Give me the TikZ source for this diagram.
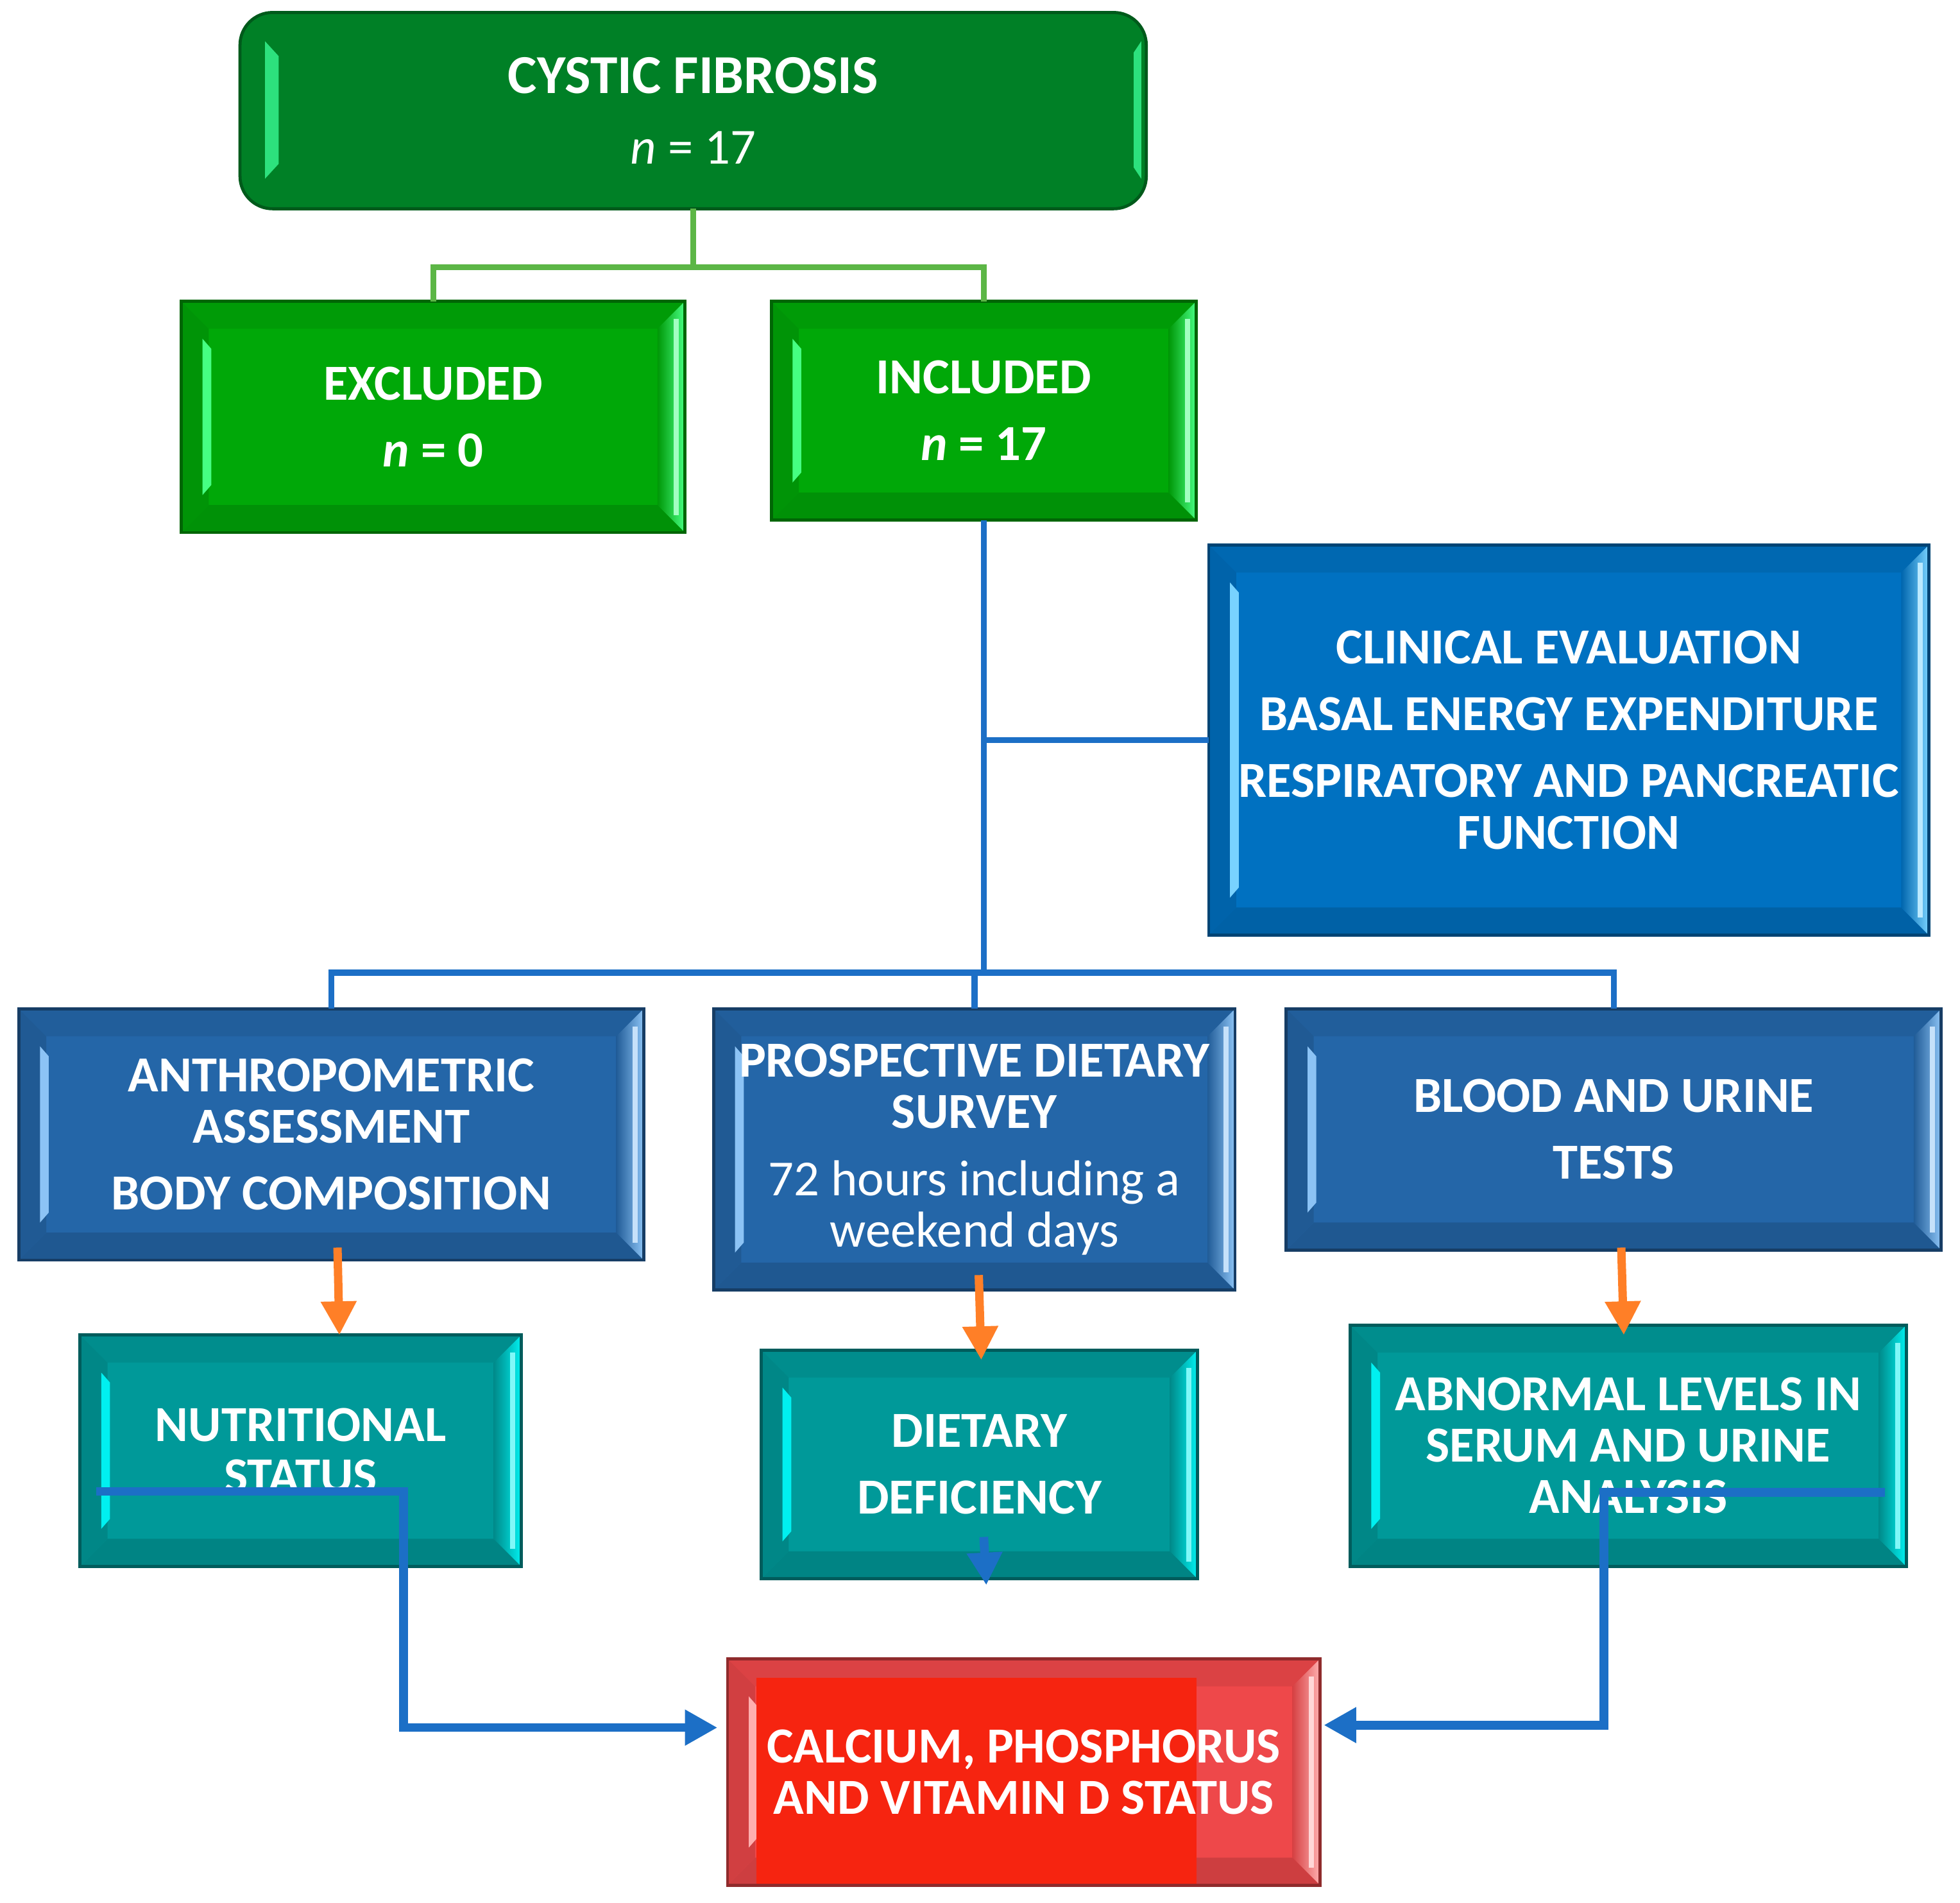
\documentclass[tikz,border=0pt]{standalone}
\usepackage{fontspec}
\setmainfont{Carlito}
\usepackage{tikz}
\usetikzlibrary{positioning,calc,arrows.meta}

\definecolor{cfgreen}{RGB}{0,128,38}
\definecolor{boxgreen}{RGB}{0,168,8}
\definecolor{lightgreen}{RGB}{70,255,130}
\definecolor{glossgreen}{RGB}{45,225,125}
\definecolor{linegreen}{RGB}{92,182,70}
\definecolor{clinblue}{RGB}{0,113,193}
\definecolor{lightblue}{RGB}{120,210,255}
\definecolor{steelblue}{RGB}{36,102,168}
\definecolor{paleblue}{RGB}{140,195,245}
\definecolor{tealbox}{RGB}{0,153,153}
\definecolor{cyanlight}{RGB}{0,240,240}
\definecolor{redbox}{RGB}{238,72,74}
\definecolor{redlight}{RGB}{255,175,175}
\definecolor{redinner}{RGB}{246,36,16}
\definecolor{lineblue}{RGB}{28,111,198}
\definecolor{arroworange}{RGB}{255,127,39}

\newcommand{\boxfont}{\fontsize{11.5}{11.7}\selectfont\bfseries}
\newcommand{\boxcorners}{%
  \path (path picture bounding box.north west) coordinate (bnw)
        (path picture bounding box.south west) coordinate (bsw)
        (path picture bounding box.north east) coordinate (bne)
        (path picture bounding box.south east) coordinate (bse);
}
\newcommand{\bevelparts}[2]{%
  \boxcorners
  \fill[#1!92!black] (bnw) -- (bne) -- ([shift={(-0.22,-0.22)}]bne) -- ([shift={(0.22,-0.22)}]bnw) -- cycle;
  \fill[#1!86!black] (bsw) -- (bse) -- ([shift={(-0.22,0.22)}]bse) -- ([shift={(0.22,0.22)}]bsw) -- cycle;
  \fill[#1!88!black] (bnw) -- (bsw) -- ([shift={(0.22,0.22)}]bsw) -- ([shift={(0.22,-0.22)}]bnw) -- cycle;
  \shade[left color=#1!90!black, right color=#2] (bne) -- (bse) -- ([shift={(-0.22,0.22)}]bse) -- ([shift={(-0.22,-0.22)}]bne) -- cycle;
  \fill[#2] ([shift={(0.17,-0.3)}]bnw) -- ([shift={(0.17,0.3)}]bsw) -- ([shift={(0.24,0.38)}]bsw) -- ([shift={(0.24,-0.38)}]bnw) -- cycle;
  \fill[#2!50!white] ([shift={(-0.09,-0.14)}]bne) rectangle ([shift={(-0.05,0.14)}]bse);
}
\newcommand{\glossparts}[1]{%
  \boxcorners
  \fill[sharp corners, #1] ([shift={(0.2,-0.23)}]bnw) -- ([shift={(0.2,0.24)}]bsw) -- ([shift={(0.31,0.36)}]bsw) -- ([shift={(0.31,-0.35)}]bnw) -- cycle;
  \fill[sharp corners, #1] ([shift={(-0.04,-0.23)}]bne) -- ([shift={(-0.04,0.24)}]bse) -- ([shift={(-0.1,0.33)}]bse) -- ([shift={(-0.1,-0.32)}]bne) -- cycle;
}

\begin{document}
\begin{tikzpicture}[
bevel/.style 2 args={rectangle, fill=#1, draw=#1!60!black, line width=0.7pt, outer sep=0pt, text=white, align=center, font=\boxfont, inner sep=0pt, path picture={\bevelparts{#1}{#2}}},
topbox/.style={rectangle, rounded corners=0.26cm, fill=cfgreen, draw=cfgreen!70!black, line width=0.7pt, outer sep=0pt, text=white, align=center, font=\boxfont, inner sep=0pt, path picture={\glossparts{glossgreen}}},
greenbox/.style={bevel={boxgreen}{lightgreen}},
clinbox/.style={bevel={clinblue}{lightblue}},
testbox/.style={bevel={steelblue}{paleblue}},
resultbox/.style={bevel={tealbox}{cyanlight}},
calcbox/.style={bevel={redbox}{redlight}, path picture={\bevelparts{redbox}{redlight}\fill[redinner] ([shift={(0.23,-0.15)}]path picture bounding box.north west) rectangle ([shift={(3.75,0)}]path picture bounding box.south west);}},
greenline/.style={draw=linegreen, line width=1.3pt},
treeline/.style={draw=lineblue, line width=1.4pt},
orangearrow/.style={draw=arroworange, line width=1.9pt, -{Triangle[width=0.27cm,length=0.27cm]}},
bluearrow/.style={draw=lineblue, line width=2pt, -{Triangle[width=0.27cm,length=0.26cm]}}
]
\useasboundingbox (0,0) rectangle (15.68,-15.22);

%Nodes
\node[topbox, minimum width=7.25cm, minimum height=1.57cm] (cf) at (5.545,-0.885) {\fontsize{12.5}{13}\selectfont CYSTIC FIBROSIS\\[4.5pt]{\mdseries\textit{n} = 17}};
\node[greenbox, minimum width=4.03cm, minimum height=1.85cm] (excl) at (3.465,-3.335) {EXCLUDED\\[3.5pt]\textit{n} = 0};
\node[greenbox, minimum width=3.40cm, minimum height=1.75cm] (incl) [right=0.69cm of excl.north east, anchor=north west] {INCLUDED\\[3.5pt]\textit{n} = 17};
\node[clinbox, minimum width=5.76cm, minimum height=3.12cm] (clin) at (12.55,-5.92) {CLINICAL EVALUATION\\[3.5pt]BASAL ENERGY EXPENDITURE\\[3.5pt]RESPIRATORY AND PANCREATIC\\FUNCTION};

\node[testbox, minimum width=5.00cm, minimum height=2.01cm] (anth) at (2.65,-9.075) {ANTHROPOMETRIC\\ASSESSMENT\\[3.5pt]BODY COMPOSITION};
\node[testbox, minimum width=4.17cm, minimum height=2.25cm] (pros) [right=0.56cm of anth.north east, anchor=north west] {PROSPECTIVE DIETARY\\SURVEY\\[3.5pt]{\mdseries 72 hours including a}\\{\mdseries weekend days}};
\node[testbox, minimum width=5.24cm, minimum height=1.93cm] (blood) [right=0.41cm of pros.north east, anchor=north west] {BLOOD AND URINE\\[3.5pt]TESTS};

\node[resultbox, minimum width=3.53cm, minimum height=1.85cm] (nutr) at (2.405,-11.605) {NUTRITIONAL\\STATUS};
\node[resultbox, minimum width=3.49cm, minimum height=1.83cm] (diet) at (7.835,-11.715) {DIETARY\\[3.5pt]DEFICIENCY};
\node[resultbox, minimum width=4.45cm, minimum height=1.93cm] (abn) at (13.025,-11.565) {ABNORMAL LEVELS IN\\SERUM AND URINE\\ANALYSIS};
\node[calcbox, minimum width=4.74cm, minimum height=1.81cm] (calc) at (8.19,-14.175) {CALCIUM, PHOSPHORUS\\AND VITAMIN D STATUS};

%Connections
\coordinate (split) at ($(cf.south)+(0,-0.47)$);
\draw[greenline] (cf.south) -- (split);
\draw[greenline] (split) -| (excl.north);
\draw[greenline] (split) -| (incl.north);

\coordinate (hub) at ($(incl.south)+(0,-3.62)$);
\draw[treeline] (incl.south) -- (hub);
\draw[treeline] (incl.south |- clin.west) -- (clin.west);
\draw[treeline] (hub) -| (anth.north);
\draw[treeline] (hub) -| (pros.north);
\draw[treeline] (hub) -| (blood.north);

\draw[orangearrow] ([xshift=0.05cm,yshift=0.1cm]anth.south) -- ([xshift=0.31cm]nutr.north);
\draw[orangearrow] ([xshift=0.035cm,yshift=0.12cm]pros.south) -- ([xshift=0.015cm,yshift=-0.08cm]diet.north);
\draw[orangearrow] ([xshift=0.06cm,yshift=0.02cm]blood.south) -- ([xshift=-0.035cm,yshift=-0.08cm]abn.north);

\coordinate (nutrstart) at ($(nutr.west)+(0.13,-0.325)$);
\coordinate (abnstart) at ($(abn.east)+(-0.17,-0.375)$);
\draw[bluearrow] (nutrstart) -- ++(2.46,0) |- ([xshift=-0.08cm,yshift=0.355cm]calc.west);
\draw[bluearrow] ([xshift=0.035cm,yshift=-0.58cm]diet.center) -- ([xshift=0.055cm,yshift=-0.05cm]diet.south);
\draw[bluearrow] (abnstart) -- ++(-2.25,0) |- ([xshift=0.03cm,yshift=0.375cm]calc.east);
\end{tikzpicture}
\end{document}
